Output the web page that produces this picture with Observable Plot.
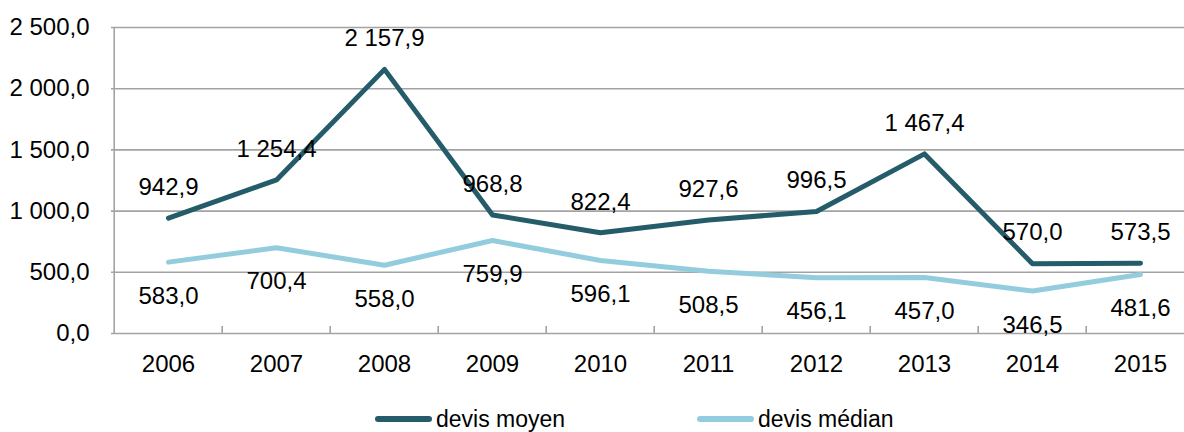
<!DOCTYPE html>
<html>
<head>
<meta charset="utf-8">
<script src="https://cdn.jsdelivr.net/npm/d3@7"></script>
<script src="https://cdn.jsdelivr.net/npm/@observablehq/plot@0.6"></script>
<style>
  body { margin: 0; background: #fff; font-family: "Liberation Sans", Arial, sans-serif; }
  #wrap { position: relative; width: 1184px; height: 432px; }
  #legend { position: absolute; top: 406px; left: 0; width: 1184px; height: 26px; font-size: 23px; line-height: 26px; color: #000; }
  .item { position: absolute; top: 0; display: flex; align-items: center; height: 26px; }
  .sw { width: 57px; height: 6px; border-radius: 3px; margin-right: 4px; }
</style>
</head>
<body>
<div id="wrap">
  <div id="chart"></div>
  <div id="legend"></div>
</div>
<script>
const years = ["2006", "2007", "2008", "2009", "2010", "2011", "2012", "2013", "2014", "2015"];
const devisMoyen = [942.9, 1254.4, 2157.9, 968.8, 822.4, 927.6, 996.5, 1467.4, 570.0, 573.5];
const devisMedian = [583.0, 700.4, 558.0, 759.9, 596.1, 508.5, 456.1, 457.0, 346.5, 481.6];
const yTicks = [0, 500, 1000, 1500, 2000, 2500];
const seriesNames = ["devis moyen", "devis médian"];
const colors = ["#255c6a", "#93cddd"];

const fr = d3.formatLocale({decimal: ",", thousands: " ", grouping: [3], currency: ["", " €"]});
const fmt = fr.format(",.1f");

const moyen = years.map((y, i) => ({year: y, value: devisMoyen[i]}));
const median = years.map((y, i) => ({year: y, value: devisMedian[i]}));

const xRange = [111, 1197];
const bw = (xRange[1] - xRange[0]) / years.length;
const tickLen = 7 * 2500 / 306;

const chart = Plot.plot({
  width: 1184,
  height: 395,
  marginLeft: 111,
  marginRight: 0,
  marginTop: 27,
  marginBottom: 62,
  style: {fontFamily: "'Liberation Sans', Arial, sans-serif", fontSize: "24px", background: "white", color: "#000"},
  x: {type: "band", domain: years, range: xRange, padding: 0, tickSize: 0, tickPadding: 21, label: null},
  y: {domain: [0, 2500], ticks: yTicks, tickFormat: fmt, tickSize: 0, tickPadding: 22, label: null},
  marks: [
    Plot.ruleY(yTicks, {stroke: "#a3a3a3", strokeWidth: 1.6}),
    Plot.ruleX([years[0]], {y1: 0, y2: 2500, dx: -bw / 2, stroke: "#a3a3a3", strokeWidth: 1.6}),
    Plot.ruleX(years.slice(1), {y1: 0, y2: tickLen, dx: -bw / 2, stroke: "#a3a3a3", strokeWidth: 1.6}),
    Plot.line(median, {x: "year", y: "value", stroke: colors[1], strokeWidth: 5, strokeLinecap: "round"}),
    Plot.line(moyen, {x: "year", y: "value", stroke: colors[0], strokeWidth: 5, strokeLinecap: "round"}),
    Plot.text(moyen, {x: "year", y: "value", text: d => fmt(d.value), dy: -31, fill: "#000", fontSize: 24}),
    Plot.text(median, {x: "year", y: "value", text: d => fmt(d.value), dy: 34, fill: "#000", fontSize: 24})
  ]
});
document.getElementById("chart").appendChild(chart);

const legend = document.getElementById("legend");
const lefts = [375, 697];
seriesNames.forEach((name, i) => {
  const item = document.createElement("div");
  item.className = "item";
  item.style.left = lefts[i] + "px";
  const sw = document.createElement("div");
  sw.className = "sw";
  sw.style.background = colors[i];
  const t = document.createElement("span");
  t.textContent = name;
  item.appendChild(sw);
  item.appendChild(t);
  legend.appendChild(item);
});
</script>
</body>
</html>
